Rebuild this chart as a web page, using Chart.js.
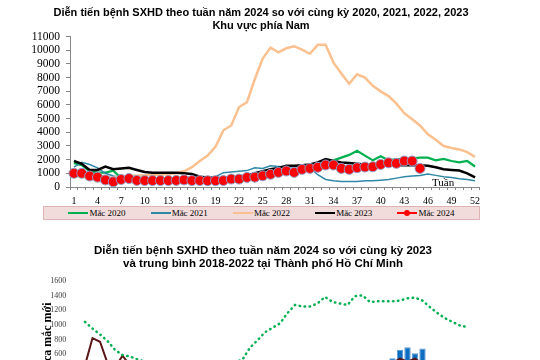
<!DOCTYPE html>
<html>
<head>
<meta charset="utf-8">
<script src="https://cdn.jsdelivr.net/npm/chart.js@4.4.1/dist/chart.umd.min.js"></script>
<style>
html, body { margin: 0; padding: 0; background: #fff; }
#page { position: relative; width: 540px; height: 360px; overflow: hidden; }
#chart1 { position: absolute; left: 0; top: 0; }
#chart2 { position: absolute; left: 0; top: 236px; }
#legend1 {
    position: absolute; left: 43px; top: 206px; width: 435px; height: 12px;
    background: #f2dcdb; border: 1px solid #dcb4b3;
    display: flex; justify-content: center; align-items: center; gap: 25px;
    font: 9px "Liberation Serif"; color: #000;
}
#legend1 .item { display: flex; align-items: center; white-space: nowrap; }
#legend1 .sw { position: relative; width: 20px; height: 0; border-top: 2px solid; margin-right: 1px; }
#legend1 .sw i { position: absolute; left: 7px; top: -4px; width: 6px; height: 6px; border-radius: 50%; background: #ff0000; }
</style>
</head>
<body>
<div id="page">
    <canvas id="chart1" width="522" height="208"></canvas>
    <div id="legend1"></div>
    <canvas id="chart2" width="486" height="192"></canvas>
</div>
<script>
// tuan 1..52
var weeks = [1, 2, 3, 4, 5, 6, 7, 8, 9, 10, 11, 12, 13, 14, 15, 16, 17, 18, 19, 20, 21, 22, 23, 24, 25, 26,
    27, 28, 29, 30, 31, 32, 33, 34, 35, 36, 37, 38, 39, 40, 41, 42, 43, 44, 45, 46, 47, 48, 49, 50, 51, 52];

// Khu vuc phia Nam
var mac2020 = [1750, 1600, 1150, 1050, 1050, 1200, 650, 550, 500, 500, 500, 480, 480, 480, 500, 500, 520, 520,
    530, 550, 600, 650, 700, 800, 850, 900, 1000, 1100, 1200, 1300, 1400, 1550, 1750, 1950, 2150, 2350, 2650,
    2300, 1950, 2250, 1950, 2050, 2050, 2100, 2150, 2150, 1950, 2050, 1900, 1800, 1900, 1500];
var mac2021 = [1450, 1800, 1650, 1400, 1000, 800, 700, 650, 650, 650, 650, 650, 650, 650, 650, 650, 650, 650,
    750, 1050, 1100, 1150, 1200, 1400, 1350, 1550, 1500, 1450, 1500, 1450, 1400, 900, 550, 450, 400, 400, 400,
    450, 450, 500, 550, 650, 750, 800, 850, 950, 850, 750, 700, 600, 550, 450];
var mac2022 = [800, 750, 700, 700, 650, 700, 750, 800, 850, 850, 900, 900, 950, 1000, 1150, 1450, 1900, 2300,
    2950, 4150, 4500, 5850, 6200, 7900, 9400, 10200, 9850, 10150, 10300, 10050, 9750, 10400, 10400, 9100, 8300,
    7550, 8250, 8000, 7400, 7000, 6650, 6100, 5400, 4950, 4500, 3850, 3450, 3000, 2850, 2750, 2550, 2200];
var mac2023 = [1900, 1700, 1250, 1250, 1500, 1300, 1350, 1400, 1250, 1100, 1050, 1050, 1050, 1050, 1000, 950,
    750, 700, 650, 650, 650, 750, 850, 1000, 1150, 1300, 1400, 1550, 1550, 1600, 1650, 1800, 2050, 1900, 1800,
    1750, 1700, 1650, 1600, 1600, 1600, 1600, 1600, 1600, 1600, 1550, 1450, 1300, 1250, 1200, 1000, 700];
var mac2024 = [1000, 1000, 800, 720, 520, 380, 550, 620, 480, 470, 470, 470, 470, 480, 520, 470, 470, 460,
    460, 470, 580, 580, 700, 720, 820, 930, 1070, 1170, 1070, 1290, 1360, 1440, 1610, 1610, 1360, 1290, 1410,
    1460, 1480, 1650, 1770, 1730, 1900, 1900, 1360];

// TP Ho Chi Minh
var hcmTb1822 = [1040, 950, 870, 780, 660, 590, 570, 530, 500, 470, 450, 430, 420, 410, 400, 390, 390, 400,
    420, 450, 490, 530, 690, 790, 900, 960, 1020, 1160, 1270, 1250, 1250, 1290, 1380, 1310, 1290, 1270, 1390,
    1400, 1310, 1320, 1320, 1320, 1330, 1360, 1370, 1330, 1240, 1160, 1090, 1040, 990, 970];
var hcm2023 = [450, 820, 770, 480, 420, 580, 450, 420, 400, 380, 370, 360, 350, 340, 330, 330, 340, 350, 360,
    370, 380, 390, 400, 410, 420, 430, 440, 450, 450, 460, 460, 470, 470, 470, 480, 480, 480, 490, 490, 490,
    480, 480, 540, 500, 540, 470, 450, 440, 430, 420, 410, 400];
var hcm2024 = [300, 320, 280, 260, 250, 240, 220, 200, 190, 180, 170, 160, 160, 150, 150, 160, 170, 180, 200,
    220, 240, 260, 280, 300, 320, 330, 340, 350, 360, 370, 380, 390, 400, 410, 420, 430, 440, 450, 470, 480,
    500, 545, 660, 695, 615, 680];

var serif = 'Liberation Serif';
var sans = 'Liberation Sans';

// so khong co dau phay
function plainNumber(v) {
    return String(v);
}

// chu "Tuần" trong vung ve
var tuanLabel = {
    id: 'tuanLabel',
    afterDraw: function (chart) {
        var c = chart.ctx;
        var a = chart.chartArea;
        c.save();
        c.font = '11px "' + serif + '"';
        c.fillStyle = '#000';
        c.textBaseline = 'alphabetic';
        c.fillText('Tuần', a.right - 47, a.bottom - 1);
        c.restore();
    }
};

// truc phai rong, chi de giu khoang trong ben phai
function spacerAxis(w) {
    return {
        position: 'right', display: true,
        grid: { display: false }, border: { display: false }, ticks: { display: false },
        afterFit: function (s) { s.width = w; }
    };
}

//-------------
//- CHART 1 -
//-------------
var chart1 = new Chart(document.getElementById('chart1').getContext('2d'), {
    type: 'line',
    data: {
        labels: weeks,
        datasets: [
            { label: 'Mắc 2020', data: mac2020, borderColor: '#00b050', borderWidth: 2.2, pointRadius: 0, order: 5 },
            { label: 'Mắc 2021', data: mac2021, borderColor: '#2f88a8', borderWidth: 1.5, pointRadius: 0, order: 4 },
            { label: 'Mắc 2022', data: mac2022, borderColor: '#fac08f', borderWidth: 2.5, pointRadius: 0, order: 3 },
            { label: 'Mắc 2023', data: mac2023, borderColor: '#000000', borderWidth: 2.5, pointRadius: 0, order: 2 },
            {
                label: 'Mắc 2024', data: mac2024, borderColor: '#ff0000', borderWidth: 2, order: 1,
                pointRadius: 5, pointBackgroundColor: '#ff0000', pointBorderColor: '#8e9cc7', pointBorderWidth: 1
            }
        ]
    },
    options: {
        responsive: false,
        animation: false,
        layout: { padding: 0 },
        plugins: {
            legend: { display: false },
            tooltip: { enabled: false },
            title: {
                display: true,
                text: ['Diễn tiến bệnh SXHD theo tuần năm 2024 so với cùng kỳ 2020, 2021, 2022, 2023', 'Khu vực phía Nam'],
                color: '#000',
                font: { family: sans, size: 11, weight: 'bold', lineHeight: 1.13 },
                padding: { top: 7, bottom: 4.8 }
            }
        },
        scales: {
            x: {
                offset: true,
                grid: { offset: true, drawOnChartArea: false, tickLength: 3, color: '#868686' },
                border: { color: '#868686' },
                ticks: {
                    autoSkip: false, maxRotation: 0, padding: 5, color: '#000',
                    font: { family: serif, size: 10 },
                    callback: function (v, i) { return i % 3 === 0 ? this.getLabelForValue(v) : ''; }
                },
                afterFit: function (s) { s.height = 21; }
            },
            y: {
                min: 0, max: 11000,
                grid: { drawOnChartArea: false, tickLength: 4, color: '#868686' },
                border: { color: '#868686' },
                ticks: {
                    stepSize: 1000, autoSkip: false, padding: 6, color: '#000',
                    font: { family: serif, size: 11.5 }, callback: plainNumber
                },
                afterFit: function (s) { s.width = 70; }
            },
            y2: spacerAxis(43)
        }
    },
    plugins: [tuanLabel]
});

// legend 1 (html)
var legendBox = document.getElementById('legend1');
chart1.data.datasets.forEach(function (ds) {
    var item = document.createElement('span');
    item.className = 'item';
    var sw = document.createElement('span');
    sw.className = 'sw';
    sw.style.borderTopColor = ds.borderColor;
    if (ds.pointRadius > 0) sw.appendChild(document.createElement('i'));
    item.appendChild(sw);
    item.appendChild(document.createTextNode(ds.label));
    legendBox.appendChild(item);
});

//-------------
//- CHART 2 -
//-------------
new Chart(document.getElementById('chart2').getContext('2d'), {
    type: 'bar',
    data: {
        labels: weeks,
        datasets: [
            {
                type: 'line', label: 'Trung bình 2018-2022', data: hcmTb1822, borderColor: '#00b050',
                borderWidth: 2.5, borderDash: [0.5, 4.5], borderCapStyle: 'round', pointRadius: 0, order: 1
            },
            { type: 'line', label: 'Năm 2023', data: hcm2023, borderColor: '#5b1515', borderWidth: 2, pointRadius: 0, order: 2 },
            {
                type: 'bar', label: 'Năm 2024', data: hcm2024, backgroundColor: '#0b6cc0', borderColor: '#5b9bd5',
                borderWidth: 1, barPercentage: 0.85, categoryPercentage: 1, order: 3
            }
        ]
    },
    options: {
        responsive: false,
        animation: false,
        layout: { padding: { left: 40, right: 0, top: 0, bottom: 0 } },
        plugins: {
            legend: { display: false },
            tooltip: { enabled: false },
            title: {
                display: true,
                text: ['Diễn tiến bệnh SXHD theo tuần năm 2024 so với cùng kỳ 2023', 'và trung bình 2018-2022 tại Thành phố Hồ Chí Minh'],
                color: '#000',
                font: { family: sans, size: 11.5, weight: 'bold', lineHeight: 1.1 },
                padding: { top: 8.4, bottom: 11 }
            }
        },
        scales: {
            x: {
                offset: true,
                grid: { display: false },
                ticks: { maxRotation: 0, color: '#404040', font: { family: serif, size: 8 } },
                afterFit: function (s) { s.height = 29.6; }
            },
            y: {
                min: 0, max: 1600,
                grid: { display: false },
                border: { display: false },
                ticks: {
                    stepSize: 200, autoSkip: false, padding: 7, color: '#404040',
                    font: { family: serif, size: 8 }, callback: plainNumber
                },
                title: {
                    display: true, text: 'Số ca mắc mới', color: '#000',
                    font: { family: serif, size: 12, weight: 'bold' },
                    padding: { top: 0.8, bottom: 0 }
                },
                afterFit: function (s) { s.width = 41.25; }
            },
            y2: spacerAxis(14.75)
        }
    }
});
</script>
</body>
</html>
